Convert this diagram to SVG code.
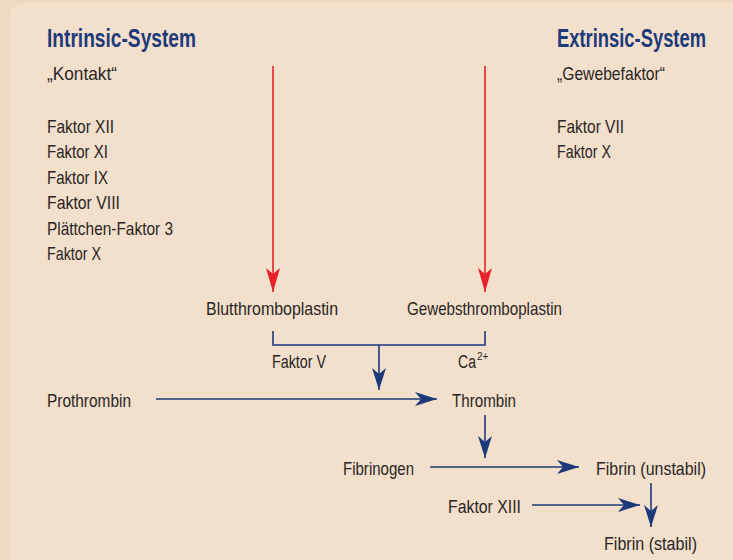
<svg xmlns="http://www.w3.org/2000/svg" width="733" height="560" viewBox="0 0 733 560">
<style>
.t{font-family:"Liberation Sans",Arial,sans-serif;font-size:19px;fill:#2b2623}
.s{font-family:"Liberation Sans",Arial,sans-serif;font-size:10px;fill:#2b2623}
.h{font-family:"Liberation Sans",Arial,sans-serif;font-size:20px;font-weight:bold;fill:#1d3a7a}
.b{stroke:#1d3a7a;stroke-width:1.6;fill:none}
.r{stroke:#e8202a;stroke-width:1.6;fill:none}
</style>
<defs>
<marker id="ab" viewBox="0 0 22 14" refX="22" refY="7" markerWidth="22" markerHeight="14" markerUnits="userSpaceOnUse" orient="auto"><path d="M0,0 L22,7 L0,14 L6,7 z" fill="#1d3a7a"/></marker>
<marker id="ar" viewBox="0 0 24 14" refX="24" refY="7" markerWidth="24" markerHeight="14" markerUnits="userSpaceOnUse" orient="auto"><path d="M0,0 L24,7 L0,14 L6,7 z" fill="#e8202a"/></marker>
</defs>
<rect width="733" height="560" fill="#efd8c2"/>
<rect x="10" y="3" width="760" height="600" rx="14" fill="#f2dfcc"/>
<g id="intrinsic">
<text class="h" transform="translate(47,47) scale(1,1.25)" textLength="149" lengthAdjust="spacingAndGlyphs">Intrinsic-System</text>
<text class="t" x="47" y="80" textLength="70" lengthAdjust="spacingAndGlyphs">„Kontakt“</text>
<text class="t" x="47" y="133" textLength="67" lengthAdjust="spacingAndGlyphs">Faktor XII</text>
<text class="t" x="47" y="158" textLength="61" lengthAdjust="spacingAndGlyphs">Faktor XI</text>
<text class="t" x="47" y="184" textLength="61" lengthAdjust="spacingAndGlyphs">Faktor IX</text>
<text class="t" x="47" y="209" textLength="73" lengthAdjust="spacingAndGlyphs">Faktor VIII</text>
<text class="t" x="47" y="235" textLength="126" lengthAdjust="spacingAndGlyphs">Plättchen-Faktor 3</text>
<text class="t" x="47" y="260" textLength="54" lengthAdjust="spacingAndGlyphs">Faktor X</text>
</g>
<g id="extrinsic">
<text class="h" transform="translate(557,47) scale(1,1.25)" textLength="149" lengthAdjust="spacingAndGlyphs">Extrinsic-System</text>
<text class="t" x="557" y="80" textLength="108" lengthAdjust="spacingAndGlyphs">„Gewebefaktor“</text>
<text class="t" x="557" y="133" textLength="67" lengthAdjust="spacingAndGlyphs">Faktor VII</text>
<text class="t" x="557" y="158" textLength="54" lengthAdjust="spacingAndGlyphs">Faktor X</text>
</g>
<g id="blutthromboplastin"><text class="t" x="206" y="315" textLength="132" lengthAdjust="spacingAndGlyphs">Blutthromboplastin</text></g>
<g id="gewebsthromboplastin"><text class="t" x="407" y="315" textLength="155" lengthAdjust="spacingAndGlyphs">Gewebsthromboplastin</text></g>
<g id="faktorV"><text class="t" x="272" y="368" textLength="54" lengthAdjust="spacingAndGlyphs">Faktor V</text></g>
<g id="ca"><text class="t" transform="translate(458,368) scale(0.74,1)">Ca</text><text class="s" x="477" y="360">2+</text></g>
<g id="prothrombin"><text class="t" x="47" y="407" textLength="84" lengthAdjust="spacingAndGlyphs">Prothrombin</text></g>
<g id="thrombin"><text class="t" x="452" y="407" textLength="64" lengthAdjust="spacingAndGlyphs">Thrombin</text></g>
<g id="fibrinogen"><text class="t" x="343" y="475" textLength="71" lengthAdjust="spacingAndGlyphs">Fibrinogen</text></g>
<g id="fibrin-unstabil"><text class="t" x="596" y="475" textLength="110" lengthAdjust="spacingAndGlyphs">Fibrin (unstabil)</text></g>
<g id="faktorXIII"><text class="t" x="448" y="513" textLength="73" lengthAdjust="spacingAndGlyphs">Faktor XIII</text></g>
<g id="fibrin-stabil"><text class="t" x="604" y="550" textLength="93" lengthAdjust="spacingAndGlyphs">Fibrin (stabil)</text></g>
<g id="connectors">
<line class="r" x1="273" y1="66" x2="273" y2="292" marker-end="url(#ar)"/>
<line class="r" x1="485" y1="66" x2="485" y2="292" marker-end="url(#ar)"/>
<path class="b" d="M273,331 V345 H485 V331"/>
<line class="b" x1="379" y1="345" x2="379" y2="390" marker-end="url(#ab)"/>
<line class="b" x1="156" y1="399" x2="437" y2="399" marker-end="url(#ab)"/>
<line class="b" x1="485" y1="415" x2="485" y2="458" marker-end="url(#ab)"/>
<line class="b" x1="430" y1="467" x2="579" y2="467" marker-end="url(#ab)"/>
<line class="b" x1="532" y1="505" x2="640" y2="505" marker-end="url(#ab)"/>
<line class="b" x1="651" y1="483" x2="651" y2="527" marker-end="url(#ab)"/>
</g>
</svg>
